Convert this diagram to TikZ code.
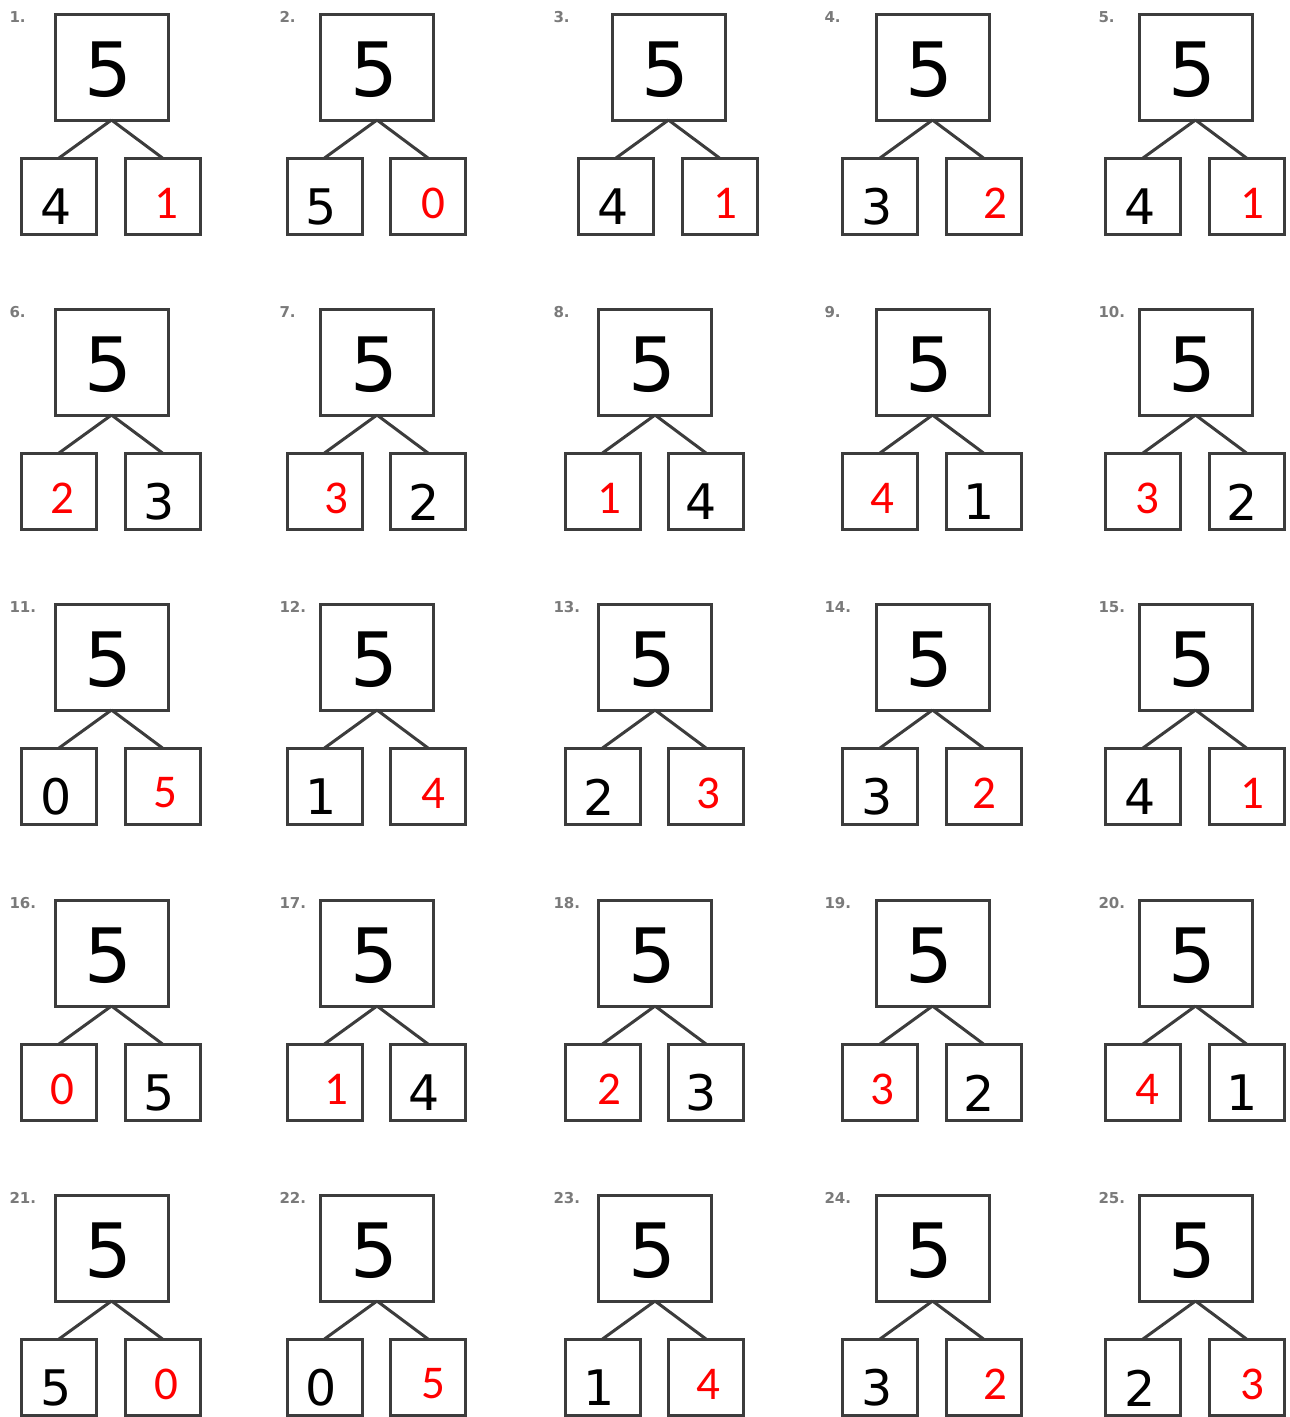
\documentclass[tikz,border=0pt]{standalone}
\usepackage{fontspec}
\usepackage{tikz}
\usetikzlibrary{positioning}
\newfontfamily\digitfont{DejaVu Sans}
\newfontfamily\answerfont{Carlito}
\definecolor{boxgray}{HTML}{3C3C3C}
\definecolor{numgray}{HTML}{7A7A7A}

\begin{document}
\begin{tikzpicture}[x=1pt, y=-1pt, line width=3pt,
    whole/.style={draw=boxgray, minimum width=113pt, minimum height=106pt, inner sep=0pt, outer sep=0pt},
    part/.style={draw=boxgray, minimum width=75pt, minimum height=76pt, inner sep=0pt, outer sep=0pt},
    big/.style={inner sep=0pt, font=\digitfont\fontsize{75}{75}\selectfont, xshift=-3pt, yshift=-3pt},
    blk/.style={inner sep=0pt, font=\digitfont\fontsize{49}{49}\selectfont, yshift=-11pt},
    ans/.style={inner sep=0pt, text=red, font=\answerfont\fontsize{47}{47}\selectfont, yshift=-7pt},
    num/.style={inner sep=0pt, anchor=north west, text=numgray, font=\digitfont\bfseries\fontsize{15}{15}\selectfont}]
    \useasboundingbox (0,0) rectangle (1290,1417);

    % one number bond per exercise: number / centre x / top y / left part / right part
    \foreach \n/\cx/\ty/\l/\ls/\lx/\r/\rs/\rx in {
        1/111.5/14/4/blk/-3/1/ans/4, 2/377/14/5/blk/-3/0/ans/5, 3/668.5/14/4/blk/-3/1/ans/6,
        4/932.5/14/3/blk/-3/2/ans/12, 5/1195.5/14/4/blk/-3/1/ans/6,
        6/111.5/309/2/ans/3/3/blk/-3, 7/377/309/3/ans/12/2/blk/-4, 8/655/309/1/ans/7/4/blk/-5,
        9/932.5/309/4/ans/2/1/blk/-4, 10/1195.5/309/3/ans/4/2/blk/-4,
        11/111.5/604/0/blk/-3/5/ans/3, 12/377/604/1/blk/-3/4/ans/5, 13/655/604/2/blk/-3/3/ans/2,
        14/932.5/604/3/blk/-3/2/ans/1, 15/1195.5/604/4/blk/-3/1/ans/6,
        16/111.5/900/0/ans/3/5/blk/-3, 17/377/900/1/ans/12/4/blk/-4, 18/655/900/2/ans/7/3/blk/-5,
        19/932.5/900/3/ans/2/2/blk/-4, 20/1195.5/900/4/ans/4/1/blk/-4,
        21/111.5/1195/5/blk/-3/0/ans/4, 22/377/1195/0/blk/-3/5/ans/5, 23/655/1195/1/blk/-3/4/ans/2,
        24/932.5/1195/3/blk/-3/2/ans/12, 25/1195.5/1195/2/blk/-3/3/ans/6}
    {
        \pgfmathsetmacro\labx{{8,278,552,823,1097}[mod(\n-1,5)]}
        \node[num] (n\n) at (\labx,\ty-4) {\n.};

        % whole and parts
        \node[whole] (t\n) at (\cx,\ty+53) {};
        \node[part, below=38pt of t\n, xshift=-52.5pt] (l\n) {};
        \node[part, below=38pt of t\n, xshift=51pt] (r\n) {};
        \draw[boxgray] (t\n.south) -- (l\n.north);
        \draw[boxgray] (t\n.south) -- (r\n.north);

        % digits
        \node[big] (t\n-v) at (t\n.center) {5};
        \node[\ls, xshift=\lx pt] (l\n-v) at (l\n.center) {\l};
        \node[\rs, xshift=\rx pt] (r\n-v) at (r\n.center) {\r};
    }
\end{tikzpicture}
\end{document}
